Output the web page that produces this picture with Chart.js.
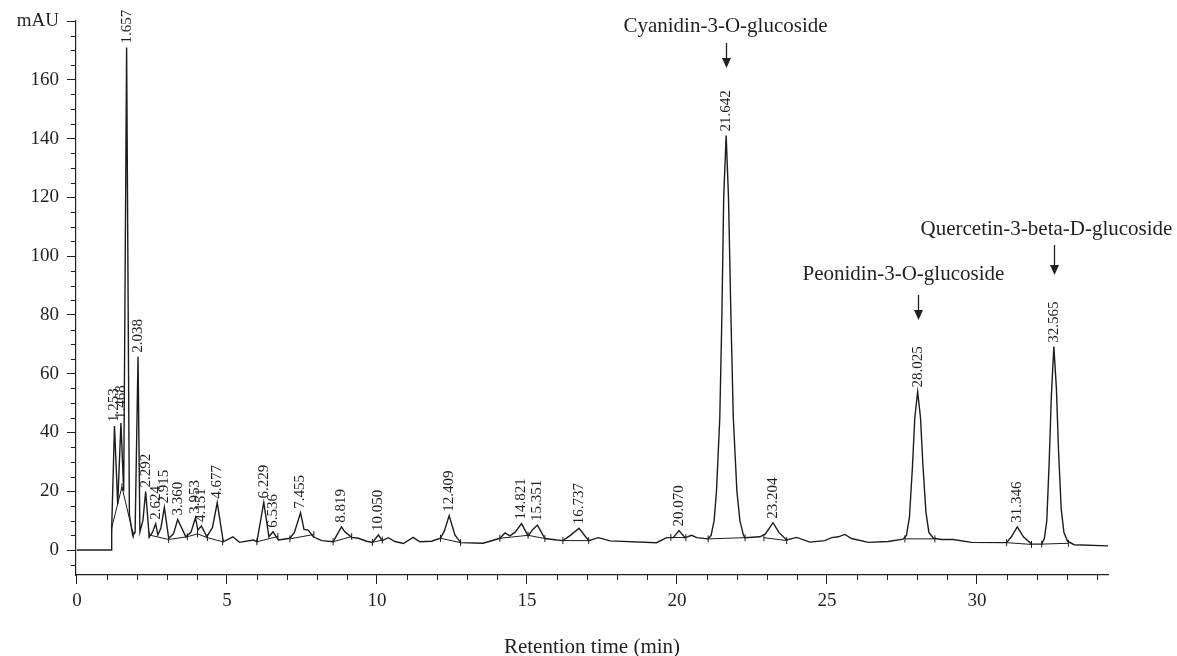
<!DOCTYPE html>
<html>
<head>
<meta charset="utf-8">
<script src="https://cdn.jsdelivr.net/npm/chart.js@4.4.1/dist/chart.umd.min.js"></script>
<style>
  html, body { margin: 0; padding: 0; background: #fff; }
  #wrap { width: 1177px; height: 656px; }
</style>
</head>
<body>
<div id="wrap"><canvas id="chromatogram" width="1177" height="656"></canvas></div>
<script>
// detector trace: retention time (min) / absorbance (mAU)
const signalTime = [
  0, 1.16, 1.16, 1.253, 1.36, 1.468, 1.56, 1.657, 1.75, 1.86, 1.94, 2.038, 2.1, 2.2, 2.292,
  2.41, 2.52, 2.624, 2.7, 2.8, 2.915, 3.06, 3.22, 3.36, 3.63, 3.8, 3.953, 4.03, 4.151, 4.33,
  4.52, 4.677, 4.88, 5.2, 5.42, 5.88, 6.0, 6.229, 6.4, 6.536, 6.72, 7.1, 7.25, 7.455, 7.57,
  7.71, 7.88, 8.16, 8.54, 8.66, 8.819, 8.93, 9.16, 9.38, 9.66, 9.85, 10.05, 10.18, 10.38, 10.6,
  10.88, 11.21, 11.43, 11.82, 12.12, 12.25, 12.409, 12.6, 12.79, 13.54, 14.1, 14.27, 14.43, 14.6,
  14.821, 15.04, 15.2, 15.351, 15.6, 16.0, 16.2, 16.45, 16.737, 17.06, 17.38, 17.77, 19.32,
  19.66, 19.88, 20.07, 20.27, 20.49, 20.66, 21.04, 21.14, 21.24, 21.32, 21.43, 21.5, 21.56,
  21.642, 21.72, 21.8, 21.88, 22.0, 22.1, 22.22, 22.27, 22.77, 22.95, 23.204, 23.4, 23.66,
  23.99, 24.43, 24.93, 25.16, 25.38, 25.6, 25.82, 26.38, 27.04, 27.54, 27.65, 27.75, 27.85,
  27.93, 28.025, 28.12, 28.2, 28.3, 28.4, 28.55, 28.82, 29.21, 29.82, 30.99, 31.15, 31.346,
  31.55, 31.82, 32.16, 32.25, 32.33, 32.41, 32.48, 32.565, 32.65, 32.72, 32.81, 32.9, 33.02,
  33.24, 34.37
];
const signalMAU = [
  0, 0, 7.5, 42.2, 15.5, 43.2, 20, 171, 12, 5, 6, 65.8, 6.2, 10, 19.9,
  4.5, 6, 8.9, 5.1, 7.5, 14.5, 4, 5.5, 10.4, 4.5, 6, 11, 6.8, 8.2, 4.5,
  7.7, 16.1, 2.8, 4.5, 2.6, 3.4, 2.8, 16.2, 4.5, 6.2, 3.4, 4, 6, 12.7, 7,
  6.8, 4.5, 3.2, 2.8, 5, 7.9, 6.2, 4.3, 4, 3, 2.6, 5.1, 3.2, 4.2, 2.9,
  2.2, 4.3, 2.8, 3, 4, 6.5, 11.7, 5.1, 2.5, 2.3, 4, 5.8, 4.8, 6,
  9, 4.8, 7, 8.5, 3.9, 3.4, 3.2, 5, 7.4, 3.2, 4.2, 3.1, 2.5,
  4.2, 4.2, 6.6, 4.2, 5, 4.2, 3.8, 5, 10, 20, 45, 80, 120,
  141, 120, 80, 45, 20, 10, 5, 4.2, 4.5, 5.5, 9.3, 6, 3.4,
  4.3, 2.7, 3.2, 4.2, 4.5, 5.3, 3.9, 2.6, 2.9, 3.7, 5, 11, 28,
  45, 53.9, 45, 29, 13, 6, 4, 3.6, 3.6, 2.6, 2.5, 4.5, 7.9,
  4.5, 2, 2, 4, 10, 30, 52, 69.2, 55, 34, 14, 6, 3,
  1.8, 1.4
];

// integration baselines (null breaks the line)
const baseTime = [1.16, 1.5, 1.88, 1.88, 2.41, 3.06, 3.68, 4.02, 4.35, 4.86, 4.86,
  6.0, 6.7, 6.7, 7.1, 7.9, 7.9, 8.54, 9.16, 9.16, 9.85, 10.18, 10.18, 12.12, 12.79, 12.79,
  14.1, 15.04, 15.6, 15.6, 16.2, 17.06, 17.06, 19.8, 20.3, 20.3, 21.04, 22.27, 22.27,
  22.9, 23.66, 23.66, 27.6, 28.6, 28.6, 30.99, 31.82, 31.82, 32.16, 33.05];
const baseMAU = [7.5, 21.5, 5.1, null, 5.1, 3.6, 4.5, 5.5, 4.2, 2.8, null,
  2.8, 4.6, null, 3.8, 5.3, null, 2.8, 4.6, null, 2.6, 3.4, null, 4, 2.5, null,
  4, 5, 3.9, null, 3.2, 3.2, null, 4.3, 4.2, null, 3.8, 4.2, null,
  4.2, 3.2, null, 3.8, 3.8, null, 2.5, 1.9, null, 2.0, 2.3];

// labelled peaks
const peakTimes = [1.253, 1.468, 1.657, 2.038, 2.292, 2.624, 2.915, 3.360, 3.953, 4.151, 4.677,
  6.229, 6.536, 7.455, 8.819, 10.050, 12.409, 14.821, 15.351, 16.737, 20.070, 21.642, 23.204,
  28.025, 31.346, 32.565];
const peakMAU = [42.2, 43.2, 171, 65.8, 19.9, 8.9, 14.5, 10.4, 11, 8.2, 16.1,
  16.2, 6.2, 12.7, 7.9, 5.1, 11.7, 9, 8.5, 7.4, 6.6, 141, 9.3,
  53.9, 7.9, 69.2];

// identified compounds
const compoundNames = ['Cyanidin-3-O-glucoside', 'Peonidin-3-O-glucoside', 'Quercetin-3-beta-D-glucoside'];
const compoundTimes = [21.642, 28.025, 32.565];

const xTicks = [0, 5, 10, 15, 20, 25, 30];
const yTicks = [0, 20, 40, 60, 80, 100, 120, 140, 160, 180];

// where the compound names and arrows sit (time, mAU)
const compoundLayout = [
  { textX: 21.62, textY: 178.0, arrowFrom: 172.5, arrowTo: 164.0 },
  { textX: 27.55, textY: 93.9, arrowFrom: 86.8, arrowTo: 78.3 },
  { textX: 32.32, textY: 109.2, arrowFrom: 103.8, arrowTo: 93.6 }
];

const ink = '#231f20';
const serif = "'Liberation Serif', 'Times New Roman', serif";

const annotate = {
  id: 'annotate',
  afterDraw(chart) {
    const {ctx, scales: {x, y}, chartArea: area} = chart;
    ctx.save();
    ctx.strokeStyle = ink;
    ctx.fillStyle = ink;
    ctx.lineWidth = 1;

    // minor ticks
    ctx.beginPath();
    for (let t = 1; t <= 34; t++) {
      if (t % 5 === 0) continue;
      const px = Math.round(x.getPixelForValue(t)) + 0.5;
      ctx.moveTo(px, area.bottom);
      ctx.lineTo(px, area.bottom + 5);
    }
    for (let v = -5; v <= 175; v += 5) {
      if (v % 20 === 0) continue;
      const py = Math.round(y.getPixelForValue(v)) + 0.5;
      ctx.moveTo(area.left - 5, py);
      ctx.lineTo(area.left, py);
    }
    ctx.stroke();

    // peak retention time labels
    ctx.font = '15px ' + serif;
    ctx.textAlign = 'left';
    ctx.textBaseline = 'middle';
    peakTimes.forEach((t, i) => {
      const px = x.getPixelForValue(t);
      const py = y.getPixelForValue(peakMAU[i]);
      ctx.save();
      ctx.translate(px, py - 4);
      ctx.rotate(-Math.PI / 2);
      ctx.fillText(t.toFixed(3), 0, 0);
      ctx.restore();
    });

    // compound names with arrows
    ctx.font = '21px ' + serif;
    ctx.textAlign = 'center';
    compoundNames.forEach((name, i) => {
      const l = compoundLayout[i];
      ctx.fillText(name, x.getPixelForValue(l.textX), y.getPixelForValue(l.textY));
      const ax = Math.round(x.getPixelForValue(compoundTimes[i])) + 0.5;
      const a0 = y.getPixelForValue(l.arrowFrom);
      const a1 = y.getPixelForValue(l.arrowTo);
      ctx.lineWidth = 1.3;
      ctx.beginPath();
      ctx.moveTo(ax, a0);
      ctx.lineTo(ax, a1 - 8);
      ctx.stroke();
      ctx.beginPath();
      ctx.moveTo(ax - 4.5, a1 - 10);
      ctx.lineTo(ax + 4.5, a1 - 10);
      ctx.lineTo(ax, a1);
      ctx.closePath();
      ctx.fill();
    });
    ctx.restore();
  }
};

const signal = signalTime.map((t, i) => ({x: t, y: signalMAU[i]}));
const baselines = baseTime.map((t, i) => ({x: t, y: baseMAU[i]}));
const marks = baselines.filter(p => p.y !== null);

new Chart(document.getElementById('chromatogram'), {
  type: 'line',
  data: {
    datasets: [
      { data: signal, borderColor: '#1c1c1c', borderWidth: 1.4, pointRadius: 0, tension: 0 },
      { data: baselines, borderColor: '#1c1c1c', borderWidth: 1, pointRadius: 0, tension: 0, spanGaps: false },
      { data: marks, showLine: false, pointStyle: 'line', rotation: 90, pointRadius: 3.5,
        borderColor: '#1c1c1c', borderWidth: 1 }
    ]
  },
  options: {
    responsive: false,
    animation: false,
    layout: { padding: { top: 21, right: 69, left: 0, bottom: 0 } },
    plugins: { legend: { display: false }, tooltip: { enabled: false } },
    scales: {
      x: {
        type: 'linear',
        min: -0.03,
        max: 34.37,
        afterBuildTicks: s => { s.ticks = xTicks.map(v => ({value: v})); },
        afterFit: s => { s.height = 81; },
        grid: { drawOnChartArea: false, drawTicks: true, tickLength: 9, color: ink, lineWidth: 1 },
        border: { display: true, color: ink, width: 1.2 },
        ticks: { color: ink, padding: 5.5, maxRotation: 0, font: { family: serif, size: 19 } },
        title: {
          display: true,
          text: 'Retention time (min)',
          color: ink,
          padding: { top: 0, bottom: 0 },
          font: { family: serif, size: 21, lineHeight: 0.85 }
        }
      },
      y: {
        type: 'linear',
        min: -8.5,
        max: 180,
        afterBuildTicks: s => { s.ticks = yTicks.map(v => ({value: v})); },
        afterFit: s => { s.width = 76; },
        grid: { drawOnChartArea: false, drawTicks: true, tickLength: 9, color: ink, lineWidth: 1 },
        border: { display: true, color: ink, width: 1.2 },
        ticks: {
          color: ink,
          padding: 8,
          font: { family: serif, size: 19 },
          callback: v => v === 180 ? 'mAU' : v
        }
      }
    }
  },
  plugins: [annotate]
});
</script>
</body>
</html>
